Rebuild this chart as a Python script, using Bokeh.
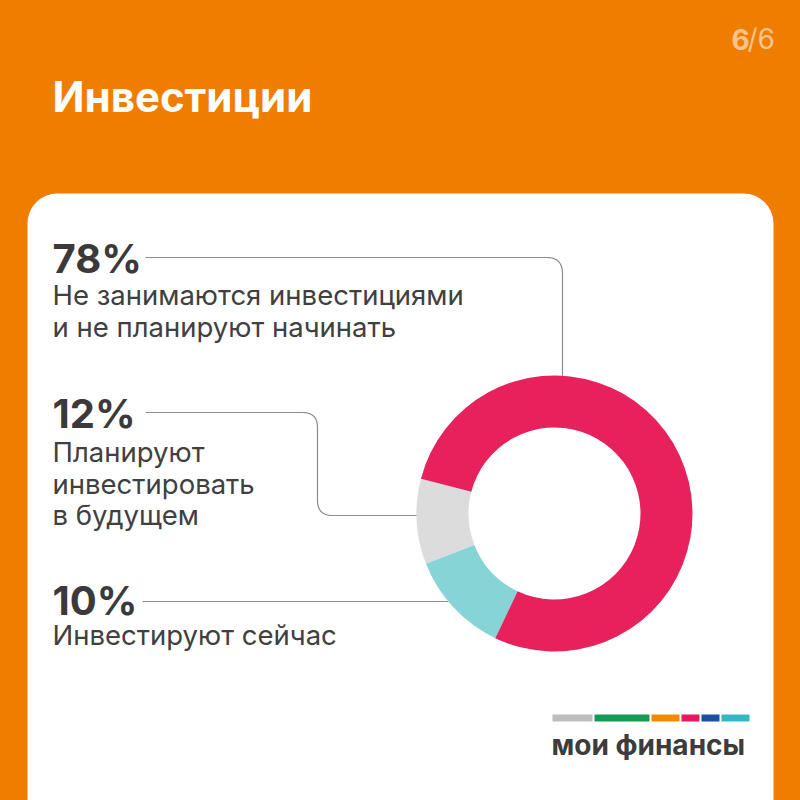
import numpy as np
from bokeh.plotting import figure
from bokeh.models import Range1d, BoxAnnotation, GlobalInlineStyleSheet
from bokeh.core.properties import value
from bokeh.embed import file_html
from bokeh.resources import INLINE

# ---------------- data ----------------
title = "Инвестиции"
page_current = "6"
page_total = "/6"
categories = ["Не занимаются инвестициями и не планируют начинать",
              "Планируют инвестировать в будущем",
              "Инвестируют сейчас"]
slice_shares = [78, 10, 12]          # slice sizes as drawn (pink, grey, cyan)
pct_labels = ["78%", "12%", "10%"]
desc_lines = [["Не занимаются инвестициями", "и не планируют начинать"],
              ["Планируют", "инвестировать", "в будущем"],
              ["Инвестируют сейчас"]]
slice_colors = ["#E6215B", "#DCDCDC", "#86D4D6"]
draw_order = [1, 2, 0]               # anticlockwise from start angle
brand = "мои финансы"
brand_colors = ["#BDBDBD", "#159A56", "#F08A00", "#E4195F", "#1B4F9F", "#35B8C4"]
brand_widths = [40, 55, 28, 18, 18, 28]

# ---------------- layout ----------------
ORANGE = "#EF7D00"
W = H = 800
FONT = "Inter"
def sy(y):  # screen y -> data y
    return 800 - y

p = figure(width=W, height=H, x_range=Range1d(0, 800), y_range=Range1d(0, 800),
           output_backend="svg", toolbar_location=None, min_border=0)
p.axis.visible = False
p.grid.visible = False
p.outline_line_color = None
p.background_fill_color = ORANGE
p.border_fill_color = ORANGE
p.stylesheets = [GlobalInlineStyleSheet(css=(
    "html,body{margin:0;padding:0;overflow:hidden;background:%s;}" % ORANGE))]

def txt(xs, base_ys, texts, size, color, bold=False):
    """place text so that its visible baseline lands on base_ys (screen px)"""
    off = 0.375 * size
    p.text(x=xs, y=[sy(b - off) for b in base_ys], text=texts, text_font=value(FONT),
           text_font_size="%gpx" % size, text_font_style="bold" if bold else "normal",
           text_color=color, text_baseline="alphabetic")

# card
p.add_layout(BoxAnnotation(left=27, right=773, top=sy(193), bottom=-200,
                           fill_color="white", fill_alpha=1, line_color=None,
                           border_radius=30, level="underlay"))

# title and page number
txt([52], [112], [title], 42, "white", bold=True)
txt([731], [49], [page_current], 28, "#F9C48A", bold=True)
txt([747], [49], [page_total], 28, "#F9C48A")

# donut
CX, CY, RO, RI = 554, 513, 138, 86
START = np.deg2rad(165.4)
tot = sum(slice_shares)
a = START
starts, ends, cols = [], [], []
for i in draw_order:
    span = 2 * np.pi * slice_shares[i] / tot
    starts.append(a); ends.append(a + span); cols.append(slice_colors[i])
    a += span
p.annular_wedge(x=[CX] * 3, y=[sy(CY)] * 3, inner_radius=RI, outer_radius=RO,
                start_angle=starts, end_angle=ends, fill_color=cols, line_color=None)

# labels
PCT_Y = [273, 428, 615]
DESC_Y0 = [305, 462, 645]
LINE_H = 31.5
for k in range(3):
    txt([52], [PCT_Y[k]], [pct_labels[k]], 40, "#3A3A3A", bold=True)
    ys = [DESC_Y0[k] + LINE_H * j for j in range(len(desc_lines[k]))]
    txt([52] * len(ys), ys, desc_lines[k], 27.5, "#404040")

# leader lines with rounded corners
def rounded(pts, r, n=12):
    out = [pts[0]]
    for i in range(1, len(pts) - 1):
        p0, p1, p2 = map(np.array, (pts[i - 1], pts[i], pts[i + 1]))
        d1 = (p0 - p1) / np.linalg.norm(p0 - p1)
        d2 = (p2 - p1) / np.linalg.norm(p2 - p1)
        a_ = p1 + d1 * r; b_ = p1 + d2 * r
        for t in np.linspace(0, 1, n):
            q = (1 - t) ** 2 * a_ + 2 * (1 - t) * t * p1 + t ** 2 * b_
            out.append(tuple(q))
    out.append(pts[-1])
    xs = [q[0] for q in out]; ys = [sy(q[1]) for q in out]
    return xs, ys

def edge_y_top(x):
    return CY - np.sqrt(RO ** 2 - (x - CX) ** 2)
def edge_x_left(y):
    return CX - np.sqrt(RO ** 2 - (y - CY) ** 2)

LC = "#8C8C8C"
l1 = rounded([(145, 257), (562, 257), (562, edge_y_top(562))], 16)
l2 = rounded([(145, 412), (317, 412), (317, 515), (edge_x_left(515), 515)], 15)
l3 = rounded([(142, 601), (edge_x_left(601), 601)], 1)
for xs, ys in (l1, l2, l3):
    p.line(xs, ys, line_color=LC, line_width=1.2)

# brand
x0 = 552
for w, c in zip(brand_widths, brand_colors):
    p.quad(left=x0, right=x0 + w, top=sy(714), bottom=sy(721), fill_color=c, line_color=None)
    x0 += w + 2
txt([551], [755], [brand], 28, "#3C3C3C", bold=True)

open("out.html", "w").write(file_html(p, INLINE))
